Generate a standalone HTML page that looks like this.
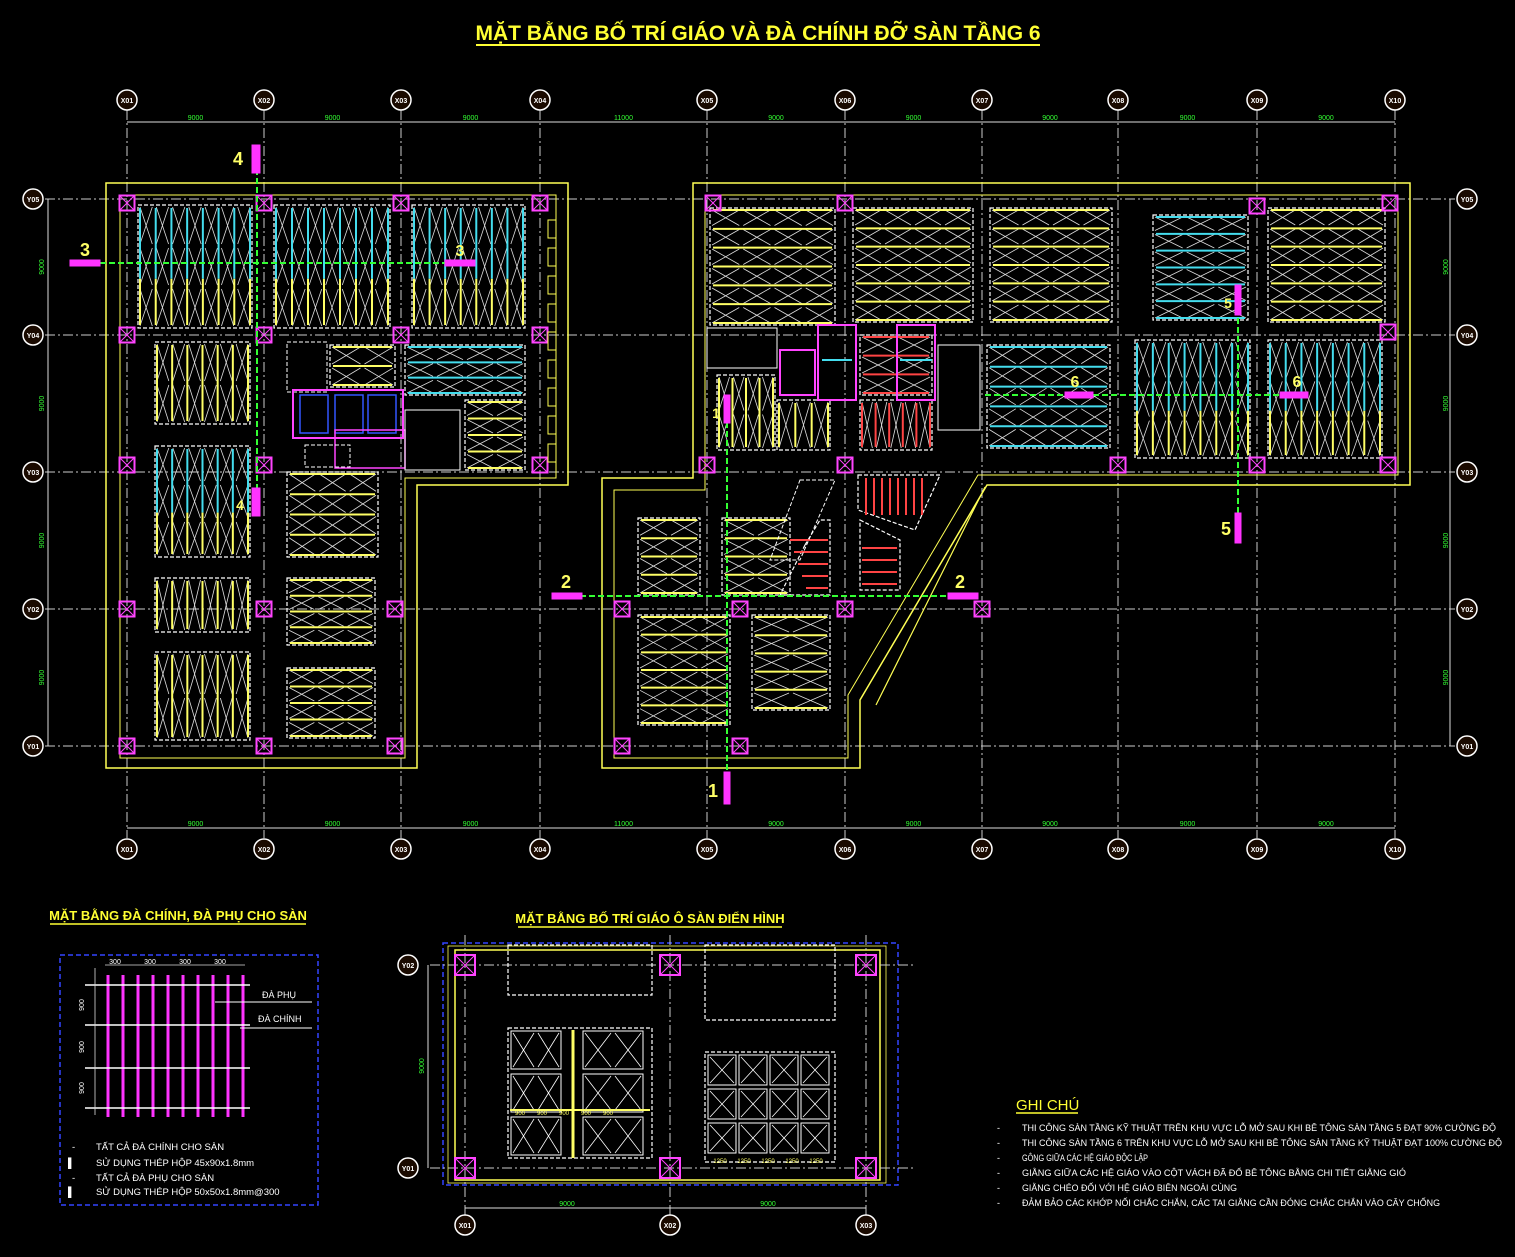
<!DOCTYPE html>
<html><head><meta charset="utf-8">
<style>
html,body{margin:0;padding:0;background:#000;}
svg{display:block;}
text{font-family:"Liberation Sans",sans-serif;}
</style></head>
<body>
<svg id="s" xmlns="http://www.w3.org/2000/svg" width="1515" height="1257" viewBox="0 0 1515 1257">
<rect width="1515" height="1257" fill="#000"/>
<text x="758" y="40" fill="#ffff33" font-size="21" font-weight="bold" text-anchor="middle">MẶT BẰNG BỐ TRÍ GIÁO VÀ ĐÀ CHÍNH ĐỠ SÀN TẦNG 6</text>
<line x1="476" y1="45" x2="1040" y2="45" stroke="#ffff33" stroke-width="2"/>
<text x="178" y="920" fill="#ffff33" font-size="13" font-weight="bold" text-anchor="middle">MẶT BẰNG ĐÀ CHÍNH, ĐÀ PHỤ CHO SÀN</text>
<line x1="50" y1="924" x2="306" y2="924" stroke="#ffff33" stroke-width="1.5"/>
<text x="650" y="923" fill="#ffff33" font-size="13" font-weight="bold" text-anchor="middle">MẶT BẰNG BỐ TRÍ GIÁO Ô SÀN ĐIỂN HÌNH</text>
<line x1="518" y1="927" x2="782" y2="927" stroke="#ffff33" stroke-width="1.5"/>
<text x="1016" y="1110" fill="#ffff33" font-size="15">GHI CHÚ</text>
<line x1="1016" y1="1113" x2="1078" y2="1113" stroke="#ffff33" stroke-width="1.5"/>
<g fill="#fff" font-size="9">
<text x="997" y="1131">-</text><text x="1022" y="1131" textLength="474" lengthAdjust="spacingAndGlyphs">THI CÔNG SÀN TẦNG KỸ THUẬT TRÊN KHU VỰC LỖ MỞ SAU KHI BÊ TÔNG SÀN TẦNG 5 ĐẠT 90% CƯỜNG ĐỘ</text>
<text x="997" y="1146">-</text><text x="1022" y="1146" textLength="480" lengthAdjust="spacingAndGlyphs">THI CÔNG SÀN TẦNG 6 TRÊN KHU VỰC LỖ MỞ SAU KHI BÊ TÔNG SÀN TẦNG KỸ THUẬT ĐẠT 100% CƯỜNG ĐỘ</text>
<text x="997" y="1161">-</text><text x="1022" y="1161" textLength="126" lengthAdjust="spacingAndGlyphs">GÔNG GIỮA CÁC HỆ GIÁO ĐỘC LẬP</text>
<text x="997" y="1176">-</text><text x="1022" y="1176" textLength="384" lengthAdjust="spacingAndGlyphs">GIẰNG GIỮA CÁC HỆ GIÁO VÀO CỘT VÁCH ĐÃ ĐỔ BÊ TÔNG BẰNG CHI TIẾT GIẰNG GIÓ</text>
<text x="997" y="1191">-</text><text x="1022" y="1191" textLength="215" lengthAdjust="spacingAndGlyphs">GIẰNG CHÉO ĐỐI VỚI HỆ GIÁO BIÊN NGOÀI CÙNG</text>
<text x="997" y="1206">-</text><text x="1022" y="1206" textLength="418" lengthAdjust="spacingAndGlyphs">ĐẢM BẢO CÁC KHỚP NỐI CHẮC CHẮN, CÁC TAI GIẰNG CẦN ĐÓNG CHẮC CHẮN VÀO CÂY CHỐNG</text>
</g>
<g fill="#fff" font-size="9.5">
<text x="72" y="1150">-</text><text x="96" y="1150">TẤT CẢ ĐÀ CHÍNH CHO SÀN</text>
<text x="68" y="1166">▌</text><text x="96" y="1166">SỬ DỤNG THÉP HỘP 45x90x1.8mm</text>
<text x="72" y="1181">-</text><text x="96" y="1181">TẤT CẢ ĐÀ PHỤ CHO SÀN</text>
<text x="68" y="1195">▌</text><text x="96" y="1195">SỬ DỤNG THÉP HỘP 50x50x1.8mm@300</text>
<text x="262" y="998" font-size="9">ĐÀ PHỤ</text>
<text x="258" y="1022" font-size="9">ĐÀ CHÍNH</text>
</g>
</svg>
<script>
const S=document.getElementById('s');const NS='http://www.w3.org/2000/svg';
function el(t,a,txt){const e=document.createElementNS(NS,t);for(const k in a)e.setAttribute(k,a[k]);if(txt!==undefined)e.textContent=txt;S.appendChild(e);return e;}
function L(x1,y1,x2,y2,c,w,d){const a={x1,y1,x2,y2,stroke:c,'stroke-width':w||1};if(d)a['stroke-dasharray']=d;return el('line',a);}
function R(x,y,w,h,c,sw,d,f){const a={x,y,width:w,height:h,stroke:c,'stroke-width':sw||1,fill:f||'none'};if(d)a['stroke-dasharray']=d;return el('rect',a);}
function P(pts,c,sw,d,f){const a={points:pts,stroke:c,'stroke-width':sw||1,fill:f||'none'};if(d)a['stroke-dasharray']=d;return el('polygon',a);}
function T(x,y,s,c,fs,anc,extra){const a={x,y,fill:c,'font-size':fs,'text-anchor':anc||'middle'};if(extra)Object.assign(a,extra);return el('text',a,s);}
const X=[127,264,401,540,707,845,982,1118,1257,1395],Y=[199,335,472,609,746];
const XL=['X01','X02','X03','X04','X05','X06','X07','X08','X09','X10'],YL=['Y01','Y02','Y03','Y04','Y05'];
X.forEach(x=>L(x,110,x,838,'#ccc',1,'10 3 2 3'));
Y.forEach(y=>L(45,y,1455,y,'#ccc',1,'10 3 2 3'));
L(127,122,1395,122,'#ddd',1);L(127,828,1395,828,'#ddd',1);
L(48,199,48,746,'#ddd',1);L(1450,199,1450,746,'#ddd',1);
const dims=['9000','9000','9000','11000','9000','9000','9000','9000','9000'];
for(let i=0;i<9;i++){const m=(X[i]+X[i+1])/2;T(m,120,dims[i],'#33ff33',7);T(m,826,dims[i],'#33ff33',7);}
for(let j=0;j<4;j++){const m=(Y[j]+Y[j+1])/2;el('text',{x:44,y:m,fill:'#33ff33','font-size':7,transform:`rotate(-90 44 ${m})`,'text-anchor':'middle'},'9000');el('text',{x:1448,y:m,fill:'#33ff33','font-size':7,transform:`rotate(-90 1448 ${m})`,'text-anchor':'middle'},'9000');}
function bub(x,y,t,r){r=r||10;el('circle',{cx:x,cy:y,r,stroke:'#fff','stroke-width':1.5,fill:'#1a0a00'});T(x,y+3,t,'#fff',7,'middle',{'font-weight':'bold'});}
X.forEach((x,i)=>{bub(x,100,XL[i]);bub(x,849,XL[i]);});
Y.forEach((y,i)=>{bub(33,y,YL[4-i]);bub(1467,y,YL[4-i]);});
P('106,183 568,183 568,485 417,485 417,768 106,768','#ffff55',1.5);
P('120,195 556,195 556,478 405,478 405,758 120,758','#ffff55',1);
P('693,183 1410,183 1410,485 987,485 860,700 860,768 602,768 602,478 693,478','#ffff55',1.5);
P('705,195 1398,195 1398,475 978,475 848,695 848,758 614,758 614,490 705,490','#ffff55',1);
L(876,705,985,487,'#ffff55',1.2);
function Xs(x,y,w,h,c){L(x,y,x+w,y+h,c,0.8);L(x+w,y,x,y+h,c,0.8);}
function vpanel(x,y,w,h,cols){R(x,y,w,h,'#fff',1.2,'4 2');const n=Math.max(2,Math.round(w/16));const st=w/n;
 const rows=Math.max(1,Math.round(h/40));const rh=h/rows;
 for(let i=0;i<n;i++)for(let r=0;r<rows;r++)Xs(x+i*st+2,y+r*rh+2,st-4,rh-4,'#ddd');
 for(let i=0;i<=n;i++){const xx=x+2+i*(w-4)/n;if(cols.length==2){L(xx,y+3,xx,y+h*0.6,cols[0],2);L(xx,y+h*0.6,xx,y+h-3,cols[1],2);}else L(xx,y+3,xx,y+h-3,cols[0],2);}}
function hpanel(x,y,w,h,c){R(x,y,w,h,'#fff',1.2,'4 2');const n=Math.max(2,Math.round(h/19));const st=h/n;
 const cl=Math.max(1,Math.round(w/32));const cw=w/cl;
 for(let i=0;i<n;i++)for(let r=0;r<cl;r++)Xs(x+r*cw+2,y+i*st+2,cw-4,st-4,'#ddd');
 for(let i=0;i<=n;i++){const yy=y+2+i*(h-4)/n;L(x+3,yy,x+w-3,yy,c,2);}}
const CY='#44ddee',YE='#ffff66',RD='#ff4444';
vpanel(138,205,114,123,[CY,YE]);vpanel(274,205,116,123,[CY,YE]);vpanel(412,205,113,123,[CY,YE]);
vpanel(155,342,95,82,[YE]);vpanel(155,446,95,111,[CY,YE]);vpanel(155,578,95,54,[YE]);vpanel(155,652,95,88,[YE]);
hpanel(287,472,91,85,YE);hpanel(287,578,88,67,YE);hpanel(287,668,88,70,YE);
hpanel(330,345,65,42,YE);hpanel(405,345,120,50,CY);hpanel(465,400,60,70,YE);
R(287,342,40,50,'#fff',1,'4 2');
R(293,390,110,48,'#ff44ff',2);R(300,395,28,38,'#3355ff',1.5);R(335,395,28,38,'#3355ff',1.5);R(368,395,28,38,'#3355ff',1.5);
R(335,430,70,38,'#ff44ff',1.5);R(405,410,55,60,'#fff',1);R(305,445,45,22,'#fff',1,'4 2');
hpanel(710,208,125,117,YE);hpanel(853,208,120,114,YE);hpanel(990,208,122,114,YE);hpanel(1153,215,95,105,CY);hpanel(1268,208,117,114,YE);
hpanel(987,345,123,103,CY);vpanel(1135,340,115,118,[CY,YE]);vpanel(1268,340,114,118,[CY,YE]);
vpanel(717,375,58,75,[YE]);vpanel(777,400,53,50,[YE]);vpanel(860,400,72,50,[RD]);hpanel(860,335,72,60,RD);
R(780,350,35,45,'#ff44ff',2);R(818,325,38,75,'#ff44ff',2);R(897,325,38,75,'#ff44ff',2);
L(822,360,852,360,CY,2);L(900,360,932,360,CY,2);
R(707,328,70,40,'#fff',1);R(938,345,42,85,'#fff',1);
hpanel(638,518,62,77,YE);hpanel(722,518,68,77,YE);hpanel(638,615,92,110,YE);hpanel(752,615,78,95,YE);
P('805,545 820,520 830,520 830,595 780,595','#fff',1.2,'4 2');
for(let i=0;i<5;i++)L(790+i*4,540+i*12,828,540+i*12,RD,2);
P('860,520 900,540 900,590 860,590','#fff',1.2,'4 2');for(let i=0;i<4;i++)L(862,548+i*12,897,548+i*12,RD,2);
P('858,475 940,475 915,530 858,510','#fff',1.2,'4 2');for(let i=0;i<8;i++)L(866+i*8,478,866+i*8,515,RD,2);
P('800,480 835,480 800,560 770,560','#fff',1,'4 2');
function col(x,y,s){s=s||15;R(x-s/2,y-s/2,s,s,'#ff44ff',2);L(x-s/2,y-s/2,x+s/2,y+s/2,'#ff44ff',1);L(x+s/2,y-s/2,x-s/2,y+s/2,'#ff44ff',1);}
[[127,203],[264,203],[401,203],[540,203],[127,335],[264,335],[401,335],[540,335],[127,465],[264,465],[540,465],[127,609],[264,609],[395,609],[127,746],[264,746],[395,746],
[713,203],[845,203],[1257,206],[1390,203],[1388,332],[1118,465],[1257,465],[1388,465],[707,465],[845,465],
[622,609],[740,609],[845,609],[982,609],[622,746],[740,746]].forEach(p=>col(p[0],p[1]));
for(let i=0;i<9;i++)R(548,220+i*28,8,18,'#ffff55',1);
const GR='#33ff33',MG='#ff33ff';
L(257,160,257,500,GR,2,'6 3');R(252,145,8,28,MG,0,null,MG);R(252,488,8,28,MG,0,null,MG);
T(238,165,'4',YE,18,'middle',{'font-weight':'bold'});T(240,510,'4',YE,14,'middle',{'font-weight':'bold'});
L(100,263,475,263,GR,2,'6 3');R(70,260,30,6,MG,0,null,MG);R(445,260,30,6,MG,0,null,MG);
T(85,256,'3',YE,18,'middle',{'font-weight':'bold'});T(460,256,'3',YE,16,'middle',{'font-weight':'bold'});
L(580,596,950,596,GR,2,'6 3');R(552,593,30,6,MG,0,null,MG);R(948,593,30,6,MG,0,null,MG);
T(566,588,'2',YE,18,'middle',{'font-weight':'bold'});T(960,588,'2',YE,18,'middle',{'font-weight':'bold'});
L(727,395,727,775,GR,2,'6 3');R(724,772,6,32,MG,0,null,MG);R(724,395,6,28,MG,0,null,MG);
T(713,797,'1',YE,18,'middle',{'font-weight':'bold'});T(716,418,'1',YE,14,'middle',{'font-weight':'bold'});
L(1238,300,1238,515,GR,2,'6 3');R(1235,513,6,30,MG,0,null,MG);R(1235,285,6,30,MG,0,null,MG);
T(1226,535,'5',YE,18,'middle',{'font-weight':'bold'});T(1228,308,'5',YE,14,'middle',{'font-weight':'bold'});
L(985,395,1300,395,GR,2,'6 3');R(1065,392,28,6,MG,0,null,MG);R(1280,392,28,6,MG,0,null,MG);
T(1075,387,'6',YE,16,'middle',{'font-weight':'bold'});T(1297,387,'6',YE,16,'middle',{'font-weight':'bold'});
R(60,955,258,250,'#3344ff',1.5,'5 3');
for(let i=0;i<10;i++){const x=108+i*15;L(x,975,x,1117,MG,3);}
[985,1025,1068,1108].forEach(y=>L(85,y,250,y,'#fff',1.5));
L(95,968,95,1115,'#ddd',0.8);L(105,965,245,965,'#ddd',0.8);
['300','300','300','300'].forEach((s,i)=>T(115+i*35,964,s,'#fff',7));
[1005,1047,1088].forEach(y=>el('text',{x:84,y,fill:'#fff','font-size':7,transform:`rotate(-90 84 ${y})`,'text-anchor':'middle'},'900'));
L(215,1002,312,1002,'#fff',1);L(240,1028,312,1028,'#fff',1);
R(443,943,455,242,'#3344ff',1.5,'5 3');
R(455,950,425,230,'#ffff55',1.5);R(448,946,438,237,'#ffff55',0.8);
L(430,965,915,965,'#ccc',1,'10 3 2 3');L(430,1168,915,1168,'#ccc',1,'10 3 2 3');
[465,670,866].forEach(x=>{L(x,935,x,1230,'#ccc',1,'10 3 2 3');col(x,965,20);col(x,1168,20);});
L(465,1208,866,1208,'#ddd',1);L(428,965,428,1168,'#ddd',1);
T(567,1206,'9000','#33ff33',7);T(768,1206,'9000','#33ff33',7);
el('text',{x:424,y:1066,fill:'#33ff33','font-size':7,transform:'rotate(-90 424 1066)','text-anchor':'middle'},'9000');
bub(408,965,'Y02');bub(408,1168,'Y01');bub(465,1225,'X01');bub(670,1225,'X02');bub(866,1225,'X03');
R(508,945,144,50,'#fff',1.2,'4 2');R(705,945,130,75,'#fff',1.2,'4 2');
function xb(x,y,w,h){R(x,y,w,h,'#fff',1);Xs(x+2,y+2,w/2-4,h-4,'#fff');Xs(x+w/2+2,y+2,w/2-4,h-4,'#fff');}
R(508,1028,144,130,'#fff',1.2,'4 2');
for(let r=0;r<3;r++){xb(511,1031+r*43,50,38);xb(583,1031+r*43,60,38);}
L(573,1030,573,1158,'#ffff66',3);L(510,1110,650,1110,'#ffff66',2);
R(705,1052,130,110,'#fff',1.2,'4 2');
for(let r=0;r<3;r++)for(let c=0;c<4;c++){R(708+c*31,1055+r*34,28,30,'#fff',1);Xs(710+c*31,1057+r*34,24,26,'#fff');}
for(let c=0;c<5;c++)T(720+c*24,1163,'1250','#ffff66',6);
for(let c=0;c<5;c++)T(520+c*22,1115,'900','#ffff66',6);
</script>
</body></html>
